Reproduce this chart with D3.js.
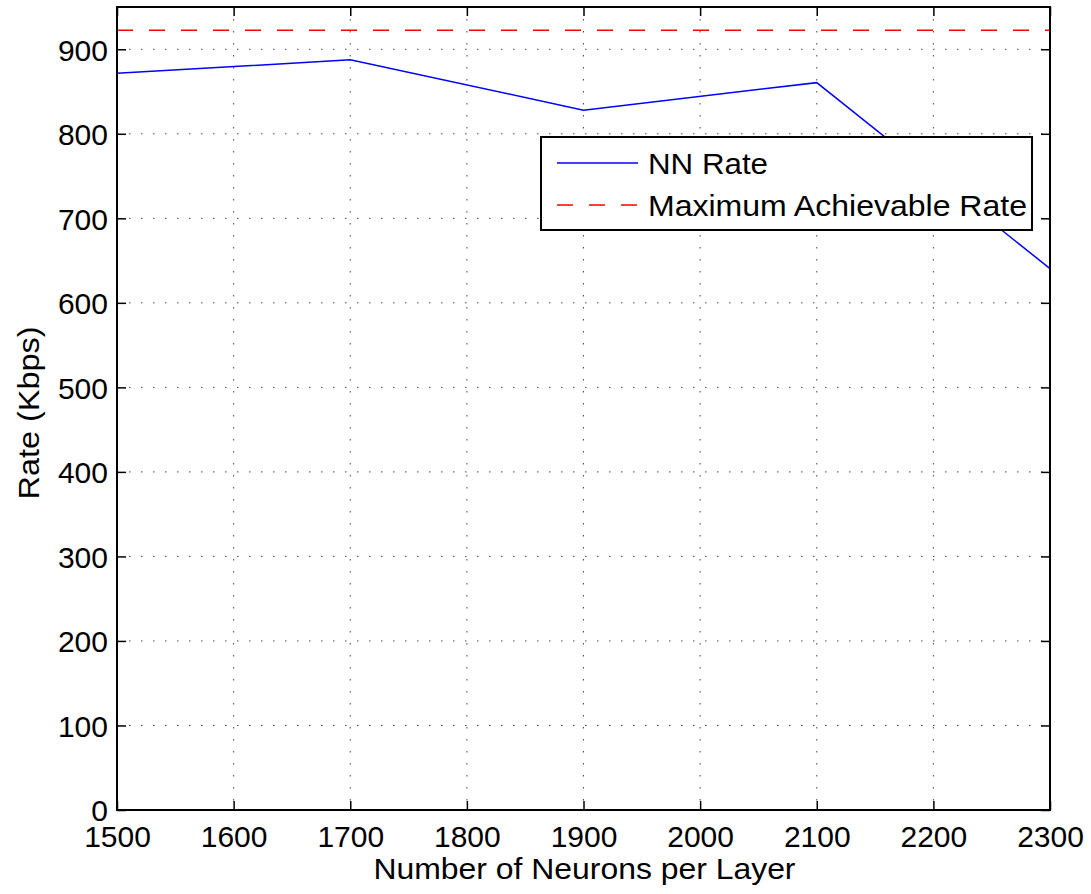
<!DOCTYPE html>
<html>
<head>
<meta charset="utf-8">
<script src="https://cdn.jsdelivr.net/npm/d3@7"></script>
<style>
  body { margin: 0; background: #fff; }
  text { font-family: "Liberation Sans", Arial, Helvetica, sans-serif; fill: #000; }
</style>
</head>
<body>
<div id="content"></div>
<script>
// values
const neurons = [1500, 1700, 1900, 2100, 2300]
const nnRate = [871.5, 887.5, 828, 860.5, 640.5]
const maxRate = 922.5
const xTicks = [1500, 1600, 1700, 1800, 1900, 2000, 2100, 2200, 2300]
const yTicks = [0, 100, 200, 300, 400, 500, 600, 700, 800, 900]
const legendLabels = ["NN Rate", "Maximum Achievable Rate"]

const outerWidth = 1091
const outerHeight = 894
const margin = {top: 7, right: 41, bottom: 84, left: 117}
const width = outerWidth - margin.left - margin.right
const height = outerHeight - margin.top - margin.bottom

const svg = d3.select("#content").append("svg")
    .attr("width", outerWidth)
    .attr("height", outerHeight)

const wrapper = svg.append("g")
    .attr("transform", `translate(${margin.left}, ${margin.top})`)

const xScale = d3.scaleLinear()
    .domain([1500, 2300])
    .range([0, width])
const yScale = d3.scaleLinear()
    .domain([0, 950])
    .range([height, 0])

// dotted grid
wrapper.append("g")
  .selectAll("line")
  .data(xTicks.slice(1, -1))
  .join("line")
    .attr("x1", d => xScale(d)).attr("x2", d => xScale(d))
    .attr("y1", 0).attr("y2", height)
    .attr("stroke", "#444").attr("stroke-width", 1)
    .attr("stroke-dasharray", "1.5,10.5")
wrapper.append("g")
  .selectAll("line")
  .data(yTicks.slice(1))
  .join("line")
    .attr("x1", 0).attr("x2", width)
    .attr("y1", d => yScale(d)).attr("y2", d => yScale(d))
    .attr("stroke", "#444").attr("stroke-width", 1)
    .attr("stroke-dasharray", "1.5,10.5")

// series
const line = d3.line()
    .x((d, i) => xScale(neurons[i]))
    .y(d => yScale(d))

wrapper.append("path")
    .datum(nnRate)
    .attr("d", line)
    .attr("fill", "none")
    .attr("stroke", "#0000ff")
    .attr("stroke-width", 1.5)

wrapper.append("line")
    .attr("x1", xScale(1500)).attr("x2", xScale(2300))
    .attr("y1", yScale(maxRate)).attr("y2", yScale(maxRate))
    .attr("stroke", "#ff0000")
    .attr("stroke-width", 1.5)
    .attr("stroke-dasharray", "16,16")

// axes, ticks on all four sides
const tickLen = 9
const fmt = d3.format("d")
const xAxis = d3.axisBottom(xScale).tickValues(xTicks).tickFormat(fmt).tickSizeInner(-tickLen).tickSizeOuter(0).tickPadding(16)
const yAxis = d3.axisLeft(yScale).tickValues(yTicks).tickFormat(fmt).tickSizeInner(-tickLen).tickSizeOuter(0).tickPadding(9)

const gx = wrapper.append("g")
    .attr("transform", `translate(0, ${height})`)
    .call(xAxis)
const gy = wrapper.append("g")
    .call(yAxis)
wrapper.append("g")
    .call(d3.axisTop(xScale).tickValues(xTicks).tickSize(-tickLen).tickFormat(""))
wrapper.append("g")
    .attr("transform", `translate(${width}, 0)`)
    .call(d3.axisRight(yScale).tickValues(yTicks).tickSize(-tickLen).tickFormat(""))

wrapper.selectAll(".domain").remove()
wrapper.selectAll(".tick line").attr("stroke", "#000").attr("stroke-width", 1.5)
wrapper.selectAll(".tick text")
    .style("font-size", "30px")
    .style("font-family", "Liberation Sans, Arial, sans-serif")
gy.selectAll(".tick text").attr("dy", "0.36em")
gx.selectAll(".tick text").attr("dy", "0.71em")

wrapper.append("rect")
    .attr("width", width).attr("height", height)
    .attr("fill", "none").attr("stroke", "#000").attr("stroke-width", 2)

// axis titles
wrapper.append("text")
    .attr("x", width / 2 + 1)
    .attr("y", height + 69)
    .style("text-anchor", "middle")
    .style("font-size", "30px")
    .attr("textLength", 422)
    .attr("lengthAdjust", "spacingAndGlyphs")
    .text("Number of Neurons per Layer")

wrapper.append("text")
    .attr("transform", "rotate(-90)")
    .attr("x", -406)
    .attr("y", -78)
    .style("text-anchor", "middle")
    .style("font-size", "30px")
    .attr("textLength", 173)
    .attr("lengthAdjust", "spacingAndGlyphs")
    .text("Rate (Kbps)")

// legend
const legend = svg.append("g")
    .attr("transform", "translate(541, 137)")
legend.append("rect")
    .attr("width", 491).attr("height", 93)
    .attr("fill", "#fff").attr("stroke", "#000").attr("stroke-width", 2)

const legendStyles = [
    {color: "#0000ff", dash: null, len: 120},
    {color: "#ff0000", dash: "16,16", len: 379}
]
legendLabels.forEach((label, i) => {
    const cy = 26 + i * 42
    legend.append("line")
        .attr("x1", 16).attr("x2", 97)
        .attr("y1", cy).attr("y2", cy)
        .attr("stroke", legendStyles[i].color)
        .attr("stroke-width", 1.5)
        .attr("stroke-dasharray", legendStyles[i].dash)
    legend.append("text")
        .attr("x", 107)
        .attr("y", cy)
        .attr("dy", "0.36em")
        .style("font-size", "30px")
        .attr("textLength", legendStyles[i].len)
        .attr("lengthAdjust", "spacingAndGlyphs")
        .text(label)
})
</script>
</body>
</html>
